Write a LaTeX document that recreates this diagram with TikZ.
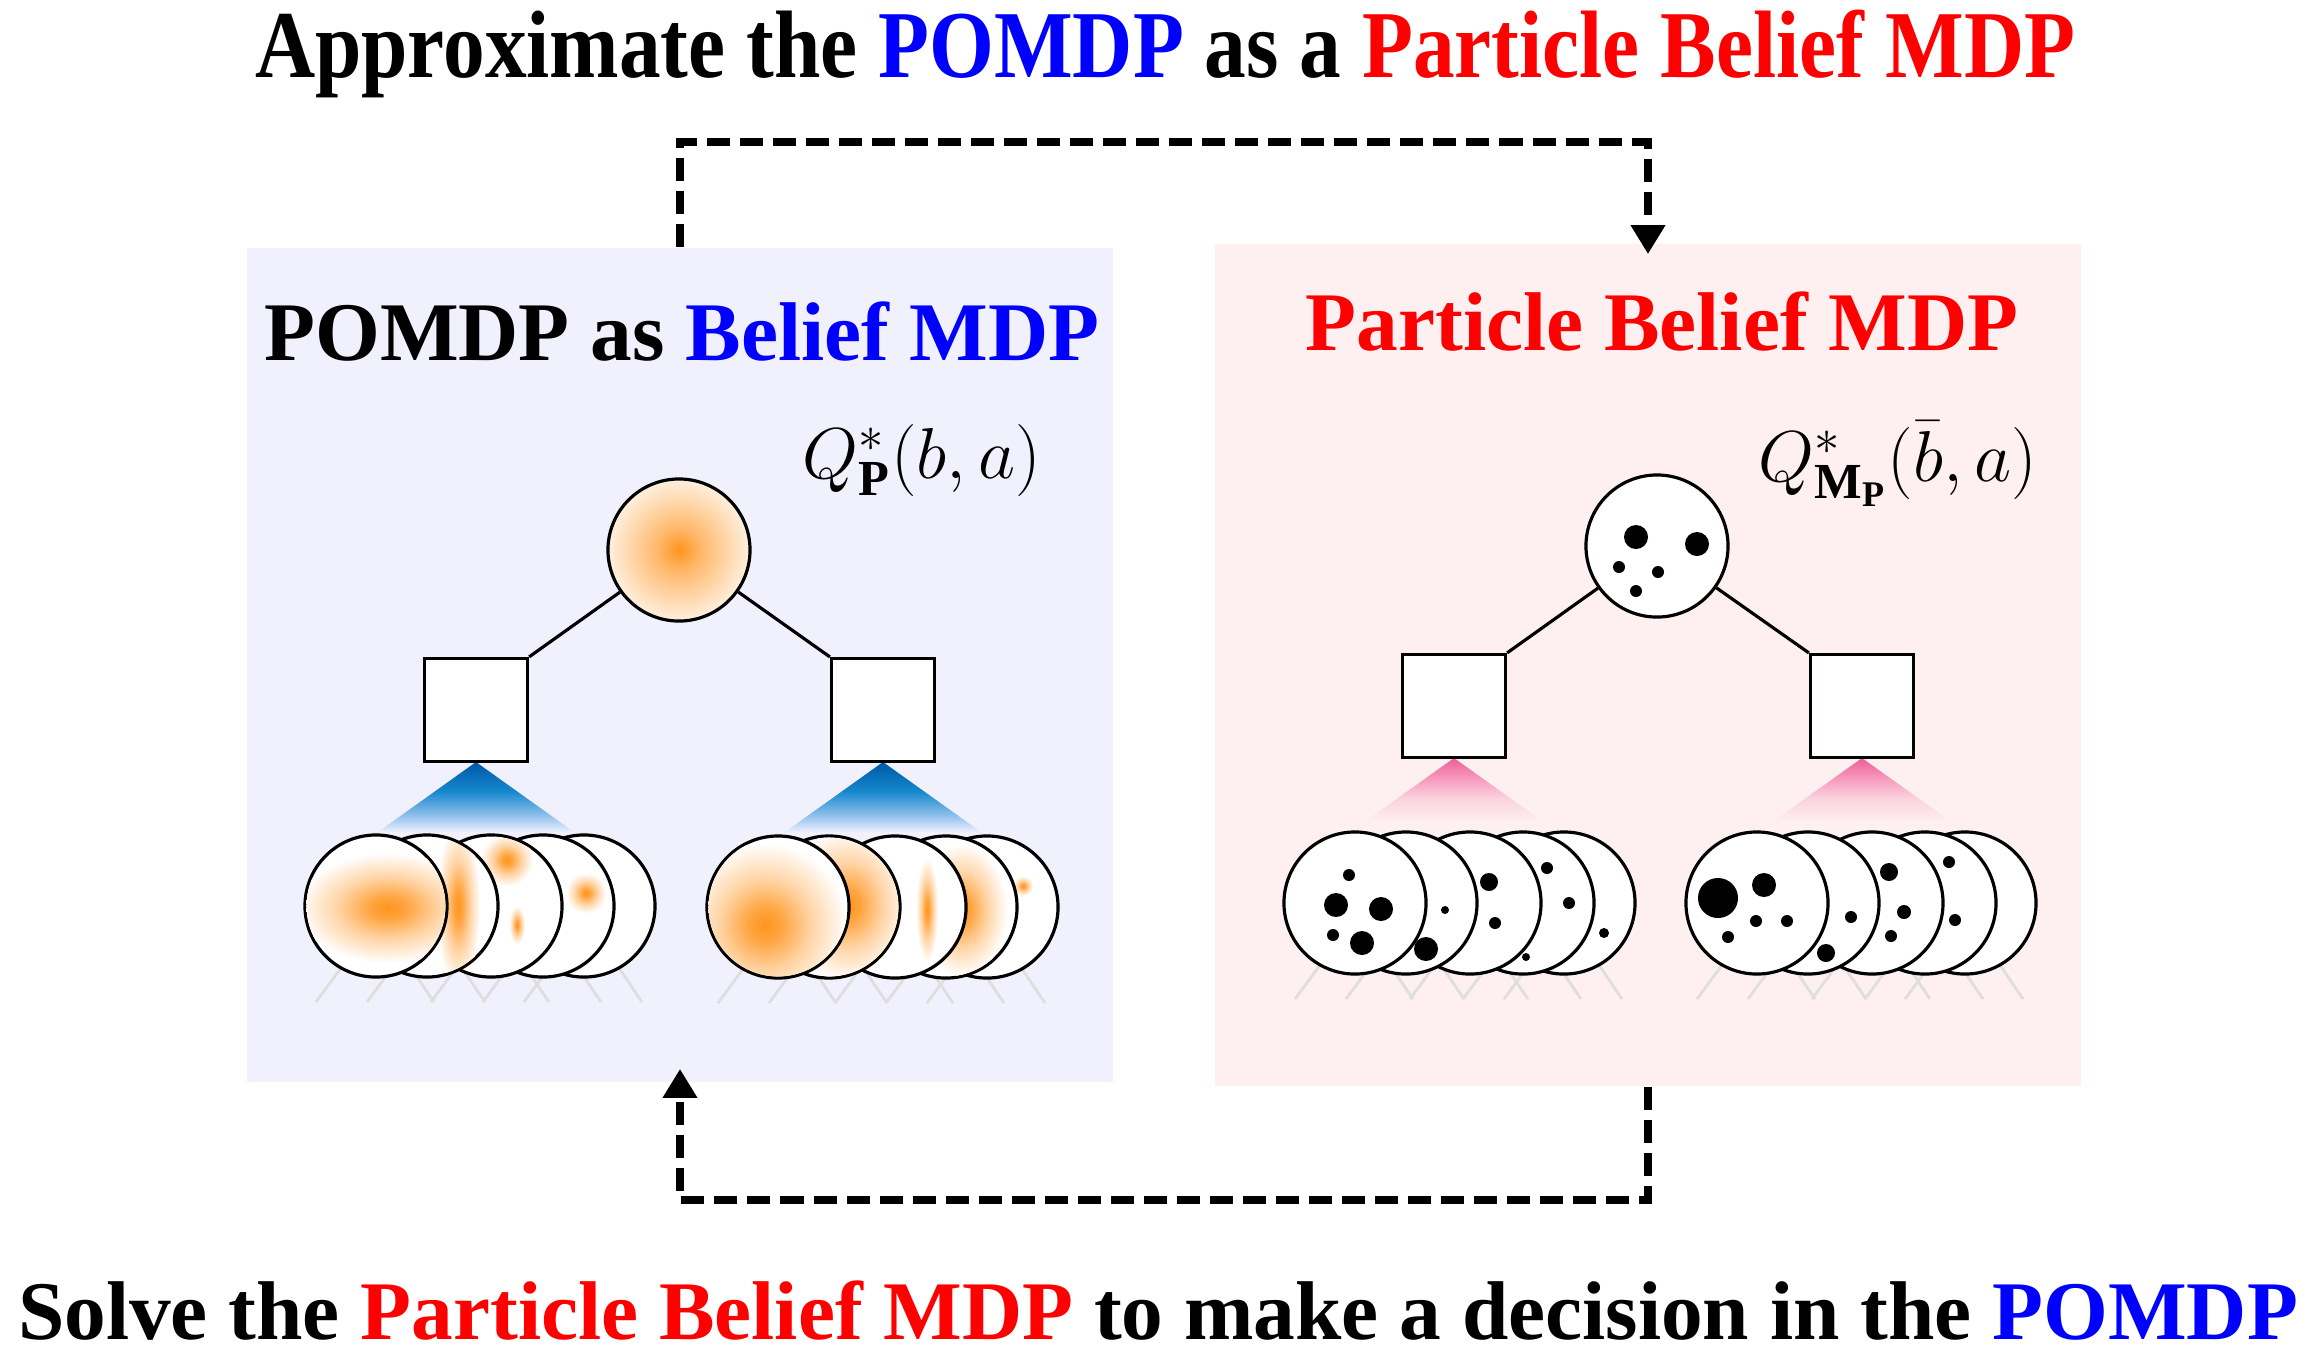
\documentclass[tikz,border=0pt]{standalone}
\usepackage{fix-cm}
\usepackage{fontspec}
\setmainfont{Liberation Serif}
\usetikzlibrary{arrows.meta}
\definecolor{lbg}{RGB}{241,241,254}
\definecolor{rbg}{RGB}{254,240,240}
\definecolor{orng}{RGB}{255,148,30}
\definecolor{tblue}{RGB}{0,0,255}
\definecolor{tred}{RGB}{255,0,0}
\definecolor{cbA}{RGB}{0,88,165}
\definecolor{cbB}{RGB}{20,135,205}
\definecolor{cbC}{RGB}{140,190,235}
\definecolor{cpA}{RGB}{238,95,150}
\definecolor{cpB}{RGB}{246,155,190}
\definecolor{cpC}{RGB}{251,210,222}
\pgfdeclareradialshading{blob}{\pgfpointorigin}{color(0bp)=(orng); color(5bp)=(orng!85); color(14bp)=(orng!40); color(25bp)=(white); color(50bp)=(white)}
\pgfdeclareradialshading{rootblob}{\pgfpointorigin}{color(0bp)=(orng); color(8bp)=(orng!65); color(25bp)=(orng!14); color(50bp)=(orng!14)}
\pgfdeclareverticalshading{bcone}{100bp}{color(0bp)=(lbg); color(31bp)=(lbg); color(42bp)=(cbC); color(57bp)=(cbB); color(75bp)=(cbA); color(100bp)=(cbA)}
\pgfdeclareverticalshading{pcone}{100bp}{color(0bp)=(rbg); color(35bp)=(rbg); color(50bp)=(cpC); color(62bp)=(cpB); color(75bp)=(cpA); color(100bp)=(cpA)}
\newcommand\ttl{\fontsize{23.7}{28}\selectfont\bfseries}
\newcommand\blob[4]{\shade[shading=blob] (#1,#2) ellipse[x radius=#3cm, y radius=#4cm];}
\newcommand\pdot[3]{\fill[black] (#1,#2) circle[radius=#3cm];}
\newcommand\bel[4]{\node[bcirc] (#1) at (#2,#3) {};
  \begin{scope}\clip (#2,#3) circle[radius=0.695cm]; #4 \end{scope}}
\newcommand\legs[2]{\draw[leg] (#1-35,#2+62) -- (#1-60,#2+96); \draw[leg] (#1+35,#2+62) -- (#1+58,#2+96);}
\begin{document}
\begin{tikzpicture}[x=0.01cm, y=-0.01cm,
  bcirc/.style={circle, draw=black, line width=0.9pt, fill=white, minimum size=1.42cm, inner sep=0pt},
  sqbox/.style={rectangle, draw=black, line width=0.9pt, fill=white, minimum size=1.03cm, inner sep=0pt},
  treeline/.style={line width=0.9pt},
  leg/.style={line width=0.8pt, draw=black!13},
  panel/.style={rectangle, draw=none, inner sep=0pt, minimum width=8.66cm},
  dasharrow/.style={line width=0.085cm, dash pattern=on 0.23cm off 0.1cm, -{Triangle[width=0.33cm,length=0.29cm]}},
  lbl/.style={anchor=base, inner sep=0pt}]
\useasboundingbox (0,0) rectangle (2317,1350);
\fill[white] (0,0) rectangle (2317,1350);
% panels
\node[panel, fill=lbg, minimum height=8.34cm] (lp) at (680,665) {};
\node[panel, fill=rbg, minimum height=8.42cm] (rp) at (1648,665) {};
% titles
\node[lbl] (ttop) at (1165,77) {\scalebox{1}[1.15]{\ttl Approximate the \textcolor{tblue}{POMDP} as a \textcolor{tred}{Particle Belief MDP}}};
\node[lbl] (tbot) at (1158,1339) {\ttl Solve the \textcolor{tred}{Particle Belief MDP} to make a decision in the \textcolor{tblue}{POMDP}};
\node[lbl] (tleft) at (682,360) {\ttl POMDP as \textcolor{tblue}{Belief MDP}};
\node[lbl, text=tred] (tright) at (1662,350) {\ttl Particle Belief MDP};
\node[lbl] (qL) at (922,478) {\fontsize{20.5}{24}\selectfont $Q^{*}_{\mathbf{P}}(b,a)$};
\node[lbl] (qR) at (1898,481) {\fontsize{20.5}{24}\selectfont $Q^{*}_{\mathbf{M}_{\mathbf{P}}}(\bar{b},a)$};
% cones
\shade[shading=bcone] (476,762) -- (364,842) -- (588,842) -- cycle;
\shade[shading=bcone] (883,762) -- (771,842) -- (995,842) -- cycle;
\shade[shading=pcone] (1454,758) -- (1342,838) -- (1566,838) -- cycle;
\shade[shading=pcone] (1862,758) -- (1750,838) -- (1974,838) -- cycle;
% legs
\foreach \cx in {376,427,491,543,584} {\legs{\cx}{906}}
\foreach \cx in {778,829,895,946,987} {\legs{\cx}{907}}
\foreach \cx in {1355,1406,1470,1523,1564} {\legs{\cx}{903}}
\foreach \cx in {1757,1808,1872,1925,1965} {\legs{\cx}{903}}
% left panel, group 1
\bel{La5}{584}{906}{}
\bel{La4}{543}{906}{\blob{586}{893}{0.20}{0.20}}
\bel{La3}{491}{906}{\blob{507}{860}{0.26}{0.26}\blob{517}{925}{0.08}{0.19}}
\bel{La2}{427}{906}{\blob{458}{906}{0.22}{0.80}}
\bel{La1}{376}{906}{\blob{388}{908}{0.90}{0.55}}
% left panel, group 2
\bel{Lb5}{987}{907}{\blob{1023}{886}{0.10}{0.10}}
\bel{Lb4}{946}{907}{\blob{962}{910}{0.45}{0.66}}
\bel{Lb3}{895}{907}{\blob{927}{910}{0.11}{0.52}}
\bel{Lb2}{829}{907}{\blob{848}{905}{0.62}{0.76}}
\bel{Lb1}{778}{907}{\blob{765}{925}{0.82}{0.82}}
% right panel, group 1
\bel{Ra5}{1564}{903}{\pdot{1604}{933}{0.05}}
\bel{Ra4}{1523}{903}{\pdot{1547}{868}{0.06}\pdot{1569}{903}{0.06}\pdot{1526}{957}{0.04}}
\bel{Ra3}{1470}{903}{\pdot{1489}{882}{0.09}\pdot{1495}{923}{0.06}}
\bel{Ra2}{1406}{903}{\pdot{1445}{910}{0.04}\pdot{1426}{949}{0.12}}
\bel{Ra1}{1355}{903}{\pdot{1349}{875}{0.06}\pdot{1336}{905}{0.12}\pdot{1381}{909}{0.12}\pdot{1333}{935}{0.06}\pdot{1362}{943}{0.12}}
% right panel, group 2
\bel{Rb5}{1965}{903}{}
\bel{Rb4}{1925}{903}{\pdot{1949}{862}{0.06}\pdot{1955}{920}{0.06}}
\bel{Rb3}{1872}{903}{\pdot{1889}{872}{0.09}\pdot{1904}{912}{0.07}\pdot{1891}{936}{0.06}}
\bel{Rb2}{1808}{903}{\pdot{1851}{917}{0.06}\pdot{1826}{953}{0.09}}
\bel{Rb1}{1757}{903}{\pdot{1718}{898}{0.20}\pdot{1764}{885}{0.12}\pdot{1756}{921}{0.06}\pdot{1787}{921}{0.06}\pdot{1728}{937}{0.06}}
% squares
\node[sqbox] (sqL1) at (476,710) {};
\node[sqbox] (sqL2) at (883,710) {};
\node[sqbox] (sqR1) at (1454,706) {};
\node[sqbox] (sqR2) at (1862,706) {};
% roots
\node[bcirc, shade, shading=rootblob] (rootL) at (679,550) {};
\node[bcirc] (rootR) at (1657,546) {};
\pdot{1636}{537}{0.12}\pdot{1697}{544}{0.12}\pdot{1619}{567}{0.06}\pdot{1658}{572}{0.06}\pdot{1636}{591}{0.06}
% tree lines
\draw[treeline] (sqL1.north east) -- (rootL);
\draw[treeline] (sqL2.north west) -- (rootL);
\draw[treeline] (sqR1.north east) -- (rootR);
\draw[treeline] (sqR2.north west) -- (rootR);
% dashed arrows
\coordinate (tc) at (1164,142);
\coordinate (bc) at (1164,1200);
\draw[dasharrow, shorten >=-0.11cm] (lp.north) |- (tc) -| (rp.north);
\draw[dasharrow, shorten >=-0.14cm] (rp.south) |- (bc) -| (lp.south);
\end{tikzpicture}
\end{document}
